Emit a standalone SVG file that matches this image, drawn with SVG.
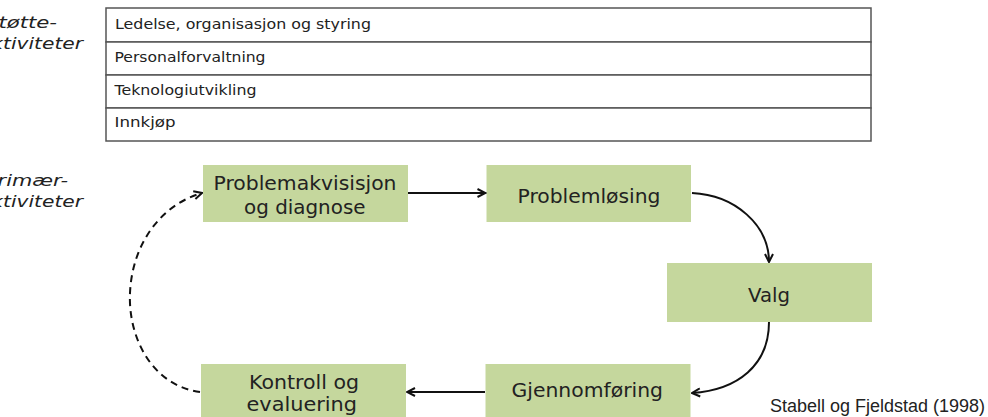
<svg xmlns="http://www.w3.org/2000/svg" width="988" height="417" viewBox="0 0 988 417">
<defs>
<marker id="ah" viewBox="0 0 10 10" refX="9" refY="5" markerWidth="10" markerHeight="10" markerUnits="userSpaceOnUse" orient="auto">
<path d="M1,1 L9,5 L1,9" fill="none" stroke="#111" stroke-width="2"/>
</marker>
<style>
.row{fill:#fff;stroke:#555;stroke-width:1.5}
.rt{font-family:"DejaVu Sans",Verdana,sans-serif;font-size:14px;fill:#222}
.side{font-family:"DejaVu Sans",Verdana,sans-serif;font-size:16px;font-style:italic;fill:#222}
.box{fill:#c5d79d}
.bt{font-family:"DejaVu Sans",Verdana,sans-serif;font-size:19px;fill:#222}
.c{fill:none;stroke:#111;stroke-width:2;marker-end:url(#ah)}
.d{stroke-dasharray:7,5}
.src{font-family:"Liberation Sans",Arial,sans-serif;font-size:17.5px;fill:#222}
</style>
</defs>
<rect width="988" height="417" fill="#fff"/>
<g id="labels">
<text class="side" x="-15" y="28" textLength="72" lengthAdjust="spacingAndGlyphs">Støtte-</text>
<text class="side" x="-21" y="49" textLength="104" lengthAdjust="spacingAndGlyphs">aktiviteter</text>
<text class="side" x="-15" y="186" textLength="83" lengthAdjust="spacingAndGlyphs">Primær-</text>
<text class="side" x="-21" y="207" textLength="104" lengthAdjust="spacingAndGlyphs">aktiviteter</text>
</g>
<g id="support">
<rect class="row" x="106" y="8" width="765" height="34"/>
<rect class="row" x="106" y="42" width="765" height="33"/>
<rect class="row" x="106" y="75" width="765" height="33"/>
<rect class="row" x="106" y="108" width="765" height="33"/>
<text class="rt" x="115" y="29" textLength="256" lengthAdjust="spacingAndGlyphs">Ledelse, organisasjon og styring</text>
<text class="rt" x="114.5" y="62" textLength="151" lengthAdjust="spacingAndGlyphs">Personalforvaltning</text>
<text class="rt" x="114.5" y="95" textLength="142" lengthAdjust="spacingAndGlyphs">Teknologiutvikling</text>
<text class="rt" x="114.5" y="127" textLength="61" lengthAdjust="spacingAndGlyphs">Innkjøp</text>
</g>
<g id="n1"><rect class="box" x="203" y="165" width="205" height="57"/>
<text class="bt" x="213.5" y="190" textLength="183" lengthAdjust="spacingAndGlyphs">Problemakvisisjon</text>
<text class="bt" x="244" y="214" textLength="121.5" lengthAdjust="spacingAndGlyphs">og diagnose</text></g>
<g id="n2"><rect class="box" x="486.5" y="165" width="204.5" height="57"/>
<text class="bt" x="517.5" y="203" textLength="143" lengthAdjust="spacingAndGlyphs">Problemløsing</text></g>
<g id="n3"><rect class="box" x="667" y="263" width="205" height="59"/>
<text class="bt" x="748" y="302" textLength="42" lengthAdjust="spacingAndGlyphs">Valg</text></g>
<g id="n4"><rect class="box" x="485.5" y="364" width="205" height="60"/>
<text class="bt" x="511.5" y="397" textLength="151.5" lengthAdjust="spacingAndGlyphs">Gjennomføring</text></g>
<g id="n5"><rect class="box" x="201" y="364" width="205" height="60"/>
<text class="bt" x="249" y="389" textLength="110" lengthAdjust="spacingAndGlyphs">Kontroll og</text>
<text class="bt" x="246.5" y="411" textLength="110.5" lengthAdjust="spacingAndGlyphs">evaluering</text></g>
<g id="connectors">
<path class="c" d="M408,193 L485.5,193"/>
<path class="c" d="M692,193 C735,195 769,225 769,262"/>
<path class="c" d="M769,322 C769,365 738,390 692,393"/>
<path class="c" d="M485,392 L407,392"/>
<path class="c d" d="M200,392 C150,385 128,335 130,293 C132,245 160,205 202,193"/>
</g>
<text class="src" x="770" y="412" textLength="215" lengthAdjust="spacingAndGlyphs">Stabell og Fjeldstad (1998)</text>
</svg>
